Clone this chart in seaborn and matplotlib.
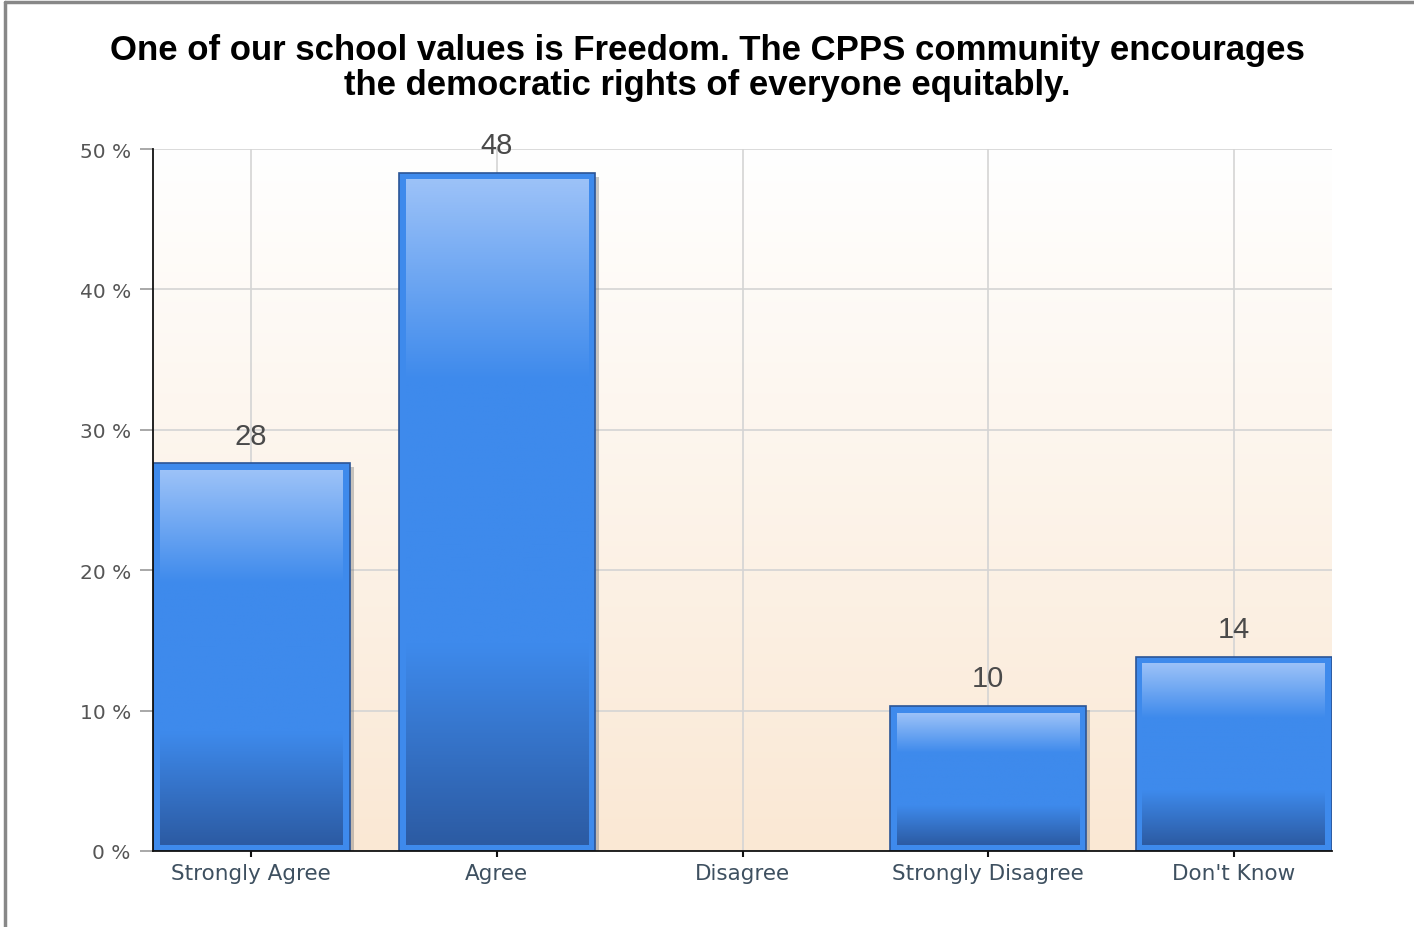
import numpy as np
import pandas as pd
import seaborn as sns
import matplotlib.pyplot as plt
from matplotlib.colors import LinearSegmentedColormap
from matplotlib.patches import Rectangle
from matplotlib.lines import Line2D
from matplotlib.transforms import ScaledTranslation

# data
answers = ["Strongly Agree", "Agree", "Disagree", "Strongly Disagree", "Don't Know"]
percent = [27.6, 48.3, 0.0, 10.3, 13.8]
labels = ["28", "48", "", "10", "14"]
yticks = [0, 10, 20, 30, 40, 50]
title = ("One of our school values is Freedom. The CPPS community encourages\n"
         "the democratic rights of everyone equitably.")

df = pd.DataFrame({"answer": answers, "percent": percent})

sns.set_style("white")
plt.rcParams["font.family"] = ["DejaVu Sans"]

fig = plt.figure(figsize=(14.14, 9.28), dpi=100)
ax = fig.add_axes([153 / 1414, 76 / 928, 1179 / 1414, 702 / 928])

sns.barplot(data=df, x="answer", y="percent", color="#3E8AEC", width=0.8,
            saturation=1, edgecolor="#2B5596", linewidth=1.2, ax=ax, zorder=3)

# background gradient white -> peach
bg = LinearSegmentedColormap.from_list("bg", ["#FAE8D4", "#FFFFFF"])
grad = np.linspace(0, 1, 256).reshape(-1, 1)
ax.imshow(grad, cmap=bg, origin="lower", aspect="auto", extent=[0, 1, 0, 1],
          transform=ax.transAxes, zorder=-1)

# bar gradient, drawn inside each bar
barmap = LinearSegmentedColormap.from_list(
    "bar", [(0, "#2C5BA3"), (0.3, "#3E8AEC"), (0.7, "#3E8AEC"), (1, "#9CC2F8")])
shadow_shift = ScaledTranslation(4 / 100, -4 / 100, fig.dpi_scale_trans)
for p in ax.patches:
    x0, y0 = p.get_x(), p.get_y()
    w, h = p.get_width(), p.get_height()
    if h <= 0:
        p.set_visible(False)
        continue
    sh = Rectangle((x0, y0), w, h, facecolor="#777777", alpha=0.4,
                   edgecolor="none", transform=ax.transData + shadow_shift, zorder=2)
    ax.add_patch(sh)
    ix = 0.028
    iy = 0.45
    ax.imshow(grad, cmap=barmap, origin="lower", aspect="auto",
              extent=[x0 + ix, x0 + w - ix, y0 + iy, y0 + h - iy], zorder=4)

for i, (v, t) in enumerate(zip(percent, labels)):
    if t:
        ax.annotate(t, (i, v), xytext=(0, 10), textcoords="offset points",
                    ha="center", va="bottom", fontsize=21, color="#4A4A4A",
                    family="Liberation Sans", zorder=6)

ax.set_xlim(-0.4, 4.4)
ax.set_ylim(0, 50)
ax.set_yticks(yticks)
ax.set_yticklabels([f"{t} %" for t in yticks])
ax.set_xlabel("")
ax.set_ylabel("")

ax.grid(True, color="#D4D4D4", linewidth=1.2)
ax.set_axisbelow(True)
for s in ["top", "right"]:
    ax.spines[s].set_visible(False)
for s in ["left", "bottom"]:
    ax.spines[s].set_color("#111111")
    ax.spines[s].set_linewidth(1.3)
    ax.spines[s].set_zorder(5)

ax.tick_params(axis="y", length=9.5, width=1.2, color="#999999",
               labelsize=14.5, pad=6.5, left=True)
ax.tick_params(axis="x", length=4.5, width=1.5, color="#111111", labelsize=15.5,
               pad=4, bottom=True)
for t in ax.get_yticklabels():
    t.set_color("#555555")
for t in ax.get_xticklabels():
    t.set_color("#3E5060")

fig.text(0.5, 1 - 68 / 928, title, ha="center", va="center", fontsize=25,
         fontweight="bold", family="Liberation Sans", linespacing=1.05,
         color="black")

# outer frame
fig.add_artist(Line2D([5 / 1414, 5 / 1414], [0, 1 - 3 / 928], color="#888888",
                      linewidth=2.5, transform=fig.transFigure))
fig.add_artist(Line2D([5 / 1414, 1], [1 - 3 / 928, 1 - 3 / 928], color="#888888",
                      linewidth=2.5, transform=fig.transFigure))

fig.savefig("out.png", dpi=100, facecolor="white")
